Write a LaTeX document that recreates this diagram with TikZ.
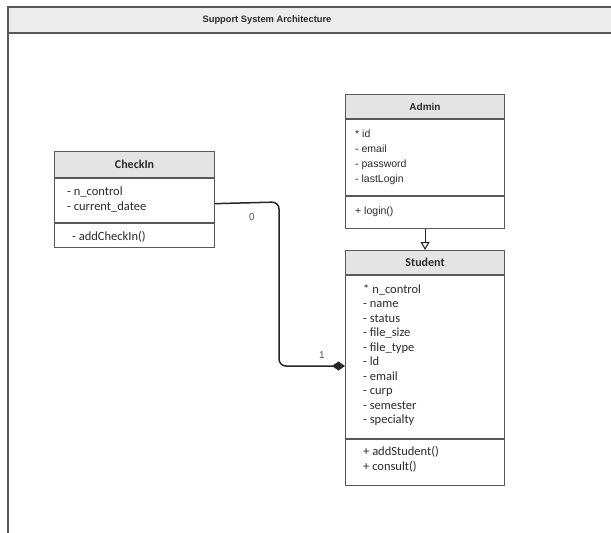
\documentclass[tikz,border=0pt]{standalone}
\usepackage{fontspec}
\setmainfont{Carlito}
\newfontfamily\rob{Liberation Sans}
\usetikzlibrary{arrows.meta}
\definecolor{edge}{HTML}{595959}
\definecolor{hdrfill}{HTML}{E4E4E4}
\definecolor{bandfill}{HTML}{ECECEC}
\definecolor{ink}{HTML}{2B2B2B}
\definecolor{lbl}{HTML}{555555}
\tikzset{
  cmp/.style={draw=edge, line width=1.1pt, fill=white, inner sep=0pt, anchor=north west, minimum width=159pt},
  hdr/.style={cmp, fill=hdrfill, text=ink, font=\bfseries\fontsize{12}{14}\selectfont},
  ahdr/.style={hdr, font=\rob\bfseries\fontsize{10}{12}\selectfont},
  txt/.style={anchor=base west, inner sep=0pt, text=ink, font=\fontsize{12.5}{14}\selectfont},
  atxt/.style={txt, font=\rob\fontsize{10.5}{12}\selectfont},
  mult/.style={inner sep=0pt, text=lbl, font=\rob\fontsize{10}{12}\selectfont},
  assoc/.style={draw=black!85, line width=1.5pt, rounded corners=7pt, -{Diamond[length=13pt,width=9pt]}},
  inherit/.style={draw=black!85, line width=1.1pt, -{Triangle[open,length=8pt,width=9pt]}},
  titletxt/.style={inner sep=0pt, text=ink, font=\rob\bfseries\fontsize{9.3}{11}\selectfont}
}
\begin{document}
\begin{tikzpicture}[x=1pt,y=-1pt]
\useasboundingbox (0,0) rectangle (611,533);
\clip (0,0) rectangle (611,533);
% frame and title band
\fill[white] (0,0) rectangle (611,533);
\fill[bandfill] (8,7) rectangle (625,33);
\draw[edge, line width=1.2pt] (8,545) -- (8,7) -- (625,7);
\draw[edge, line width=1.2pt] (8,33) -- (625,33);
\node[titletxt] (title) at (267,20) {Support System Architecture};

% CheckIn
\node[hdr, minimum width=160pt, minimum height=26pt] (ci-h) at (54,151) {CheckIn};
\node[cmp, minimum width=160pt, minimum height=44pt] (ci-a) at (ci-h.south west) {};
\node[cmp, minimum width=160pt, minimum height=24pt] (ci-m) at (ci-a.south west) {};
\node[txt] (ci-t1) at (67,195.5) {- n\_control};
\node[txt] (ci-t2) at (67,210.5) {- current\_datee};
\node[txt] (ci-t3) at (72,240.5) {- addCheckIn()};

% Admin
\node[ahdr, minimum height=24pt] (ad-h) at (345,94) {Admin};
\node[cmp, minimum height=76pt] (ad-a) at (ad-h.south west) {};
\node[cmp, minimum height=32pt] (ad-m) at (ad-a.south west) {};
\foreach \t [count=\i from 0] in {* id,- email,- password,- lastLogin}
  \node[atxt] (ad-t\i) at (355,137+15*\i) {\t};
\node[atxt] (ad-t4) at (355,214) {+ login()};

% Student
\node[hdr, minimum height=24pt] (st-h) at (345,250) {Student};
\node[cmp, minimum height=163pt] (st-a) at (st-h.south west) {};
\node[cmp, minimum height=46pt] (st-m) at (st-a.south west) {};
\foreach \t [count=\i from 0] in {* n\_control,- name,- status,- file\_size,- file\_type,- ld,- email,- curp,- semester,- specialty}
  \node[txt] (st-t\i) at (363,293.5+14.45*\i) {\t};
\node[txt] (st-m1) at (363,455.5) {+ addStudent()};
\node[txt] (st-m2) at (363,470.5) {+ consult()};

% connectors
\coordinate (bend1) at (279,202);
\coordinate (bend2) at (279,366);
\draw[assoc] ([yshift=-3pt]ci-a.east) -- (bend1) -- (bend2) -- (st-a.west |- bend2);
\node[mult] (m0) at (252,217) {0};
\node[mult] (m1) at (322,355) {1};
\draw[inherit] (ad-m.south) -- (st-h.north);
\end{tikzpicture}
\end{document}
